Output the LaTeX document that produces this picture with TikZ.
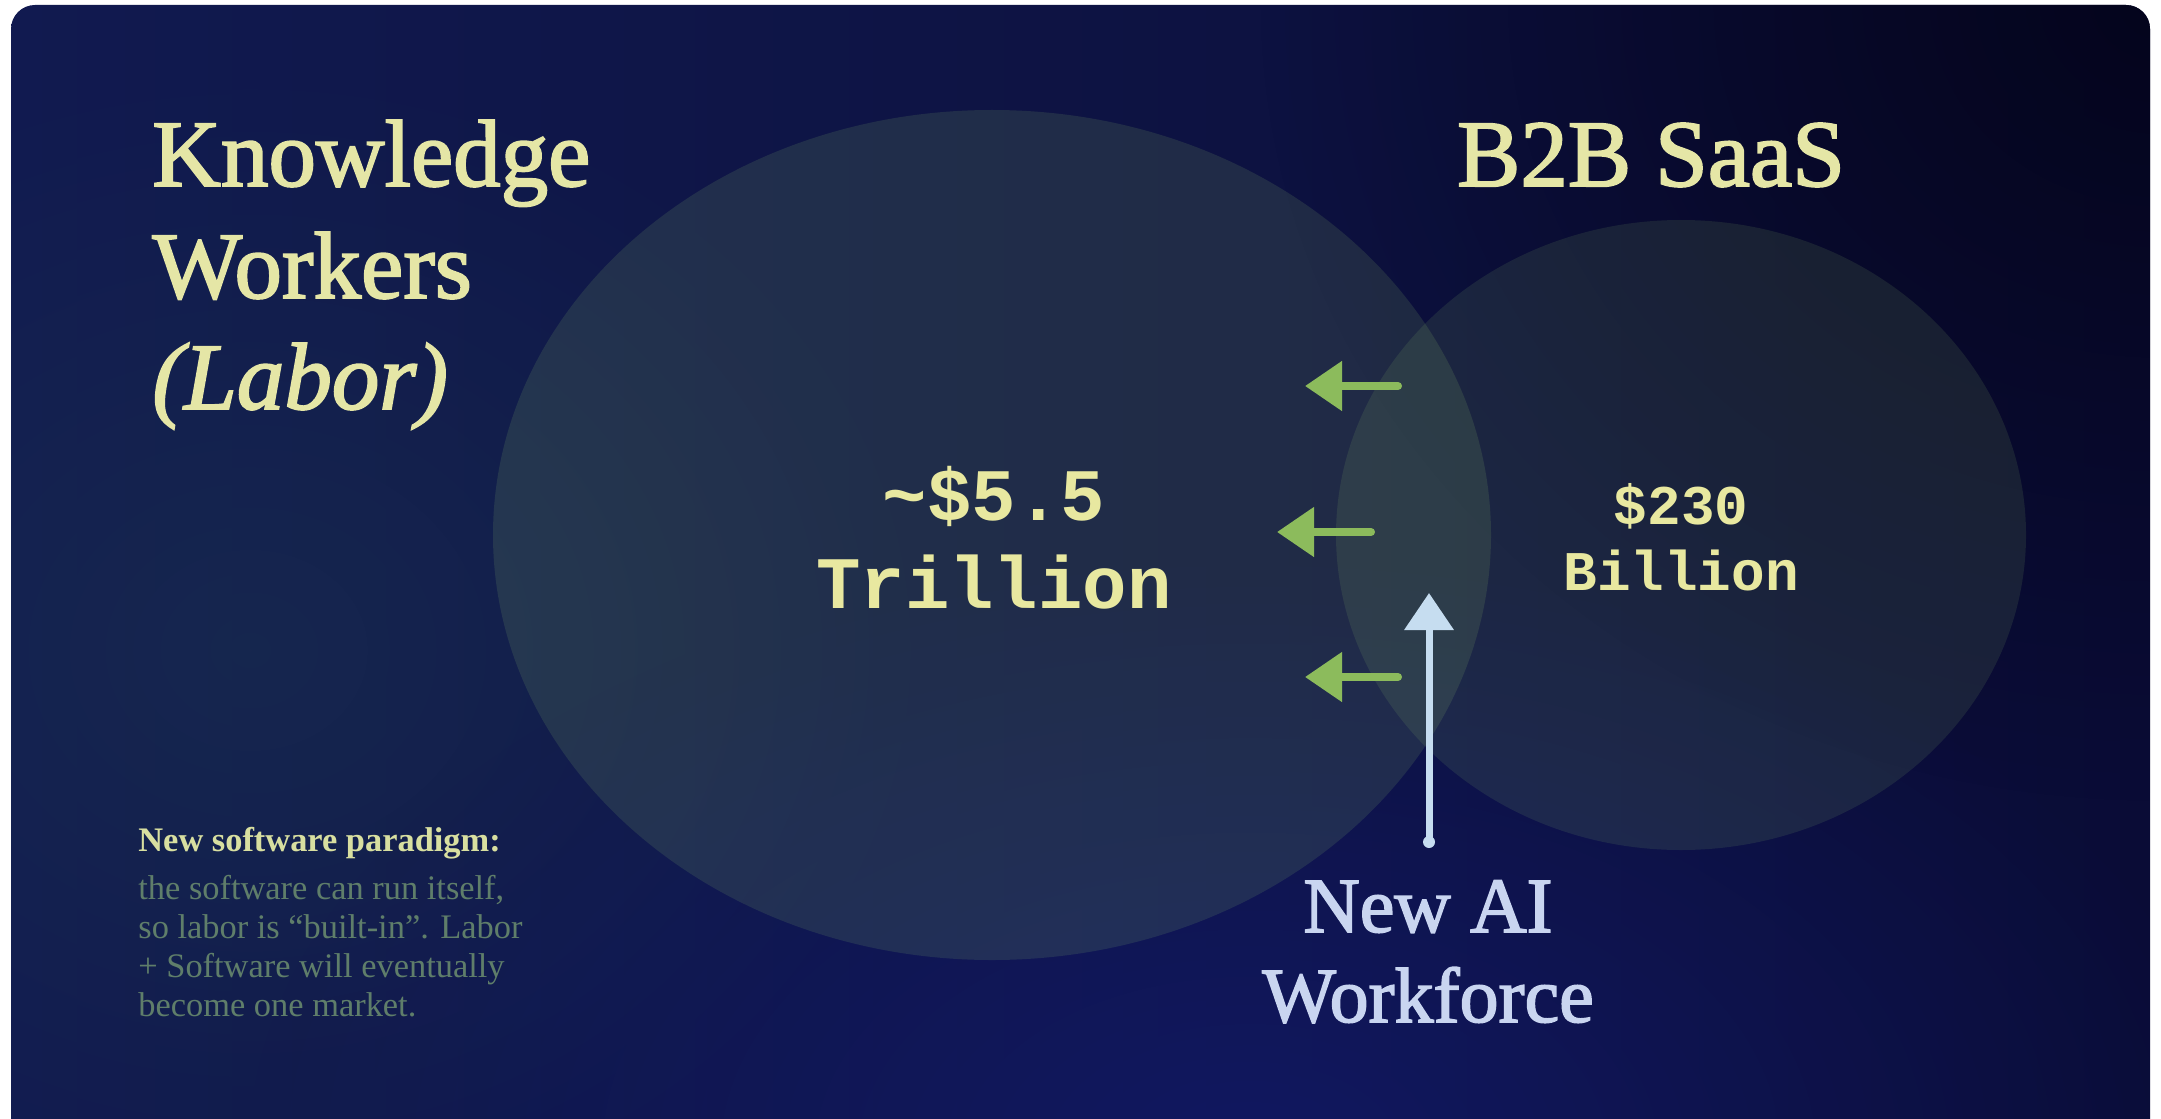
\documentclass[tikz,border=0pt]{standalone}
\usepackage{fontspec}
\setmainfont{Liberation Serif}
\newfontfamily\ttlfont[FakeBold=2]{Liberation Serif}
\newfontfamily\monofont{Liberation Mono}
\usetikzlibrary{arrows.meta,fadings,shapes.geometric}
\definecolor{bgL}{HTML}{111A50}
\definecolor{bgR}{HTML}{0A0C36}
\definecolor{bgD}{HTML}{04041A}
\definecolor{bgP}{HTML}{131B6E}
\definecolor{bgT}{HTML}{1A3050}
\definecolor{ellc}{HTML}{94C86C}
\definecolor{ttl}{HTML}{E5E6A6}
\definecolor{num}{HTML}{E8E8A0}
\definecolor{bluetxt}{HTML}{C9D5F0}
\definecolor{bluearr}{HTML}{C6DDF0}
\definecolor{greenarr}{HTML}{8CBB5C}
\definecolor{notehead}{HTML}{D8DFA0}
\definecolor{notebody}{HTML}{5F7E6A}
\tikzfading[name=myfade, inner color=transparent!0, outer color=transparent!100]
\begin{document}
\begin{tikzpicture}[x=0.5pt,y=-0.5pt,
  venn/.style={ellipse, inner sep=0pt, fill=ellc, fill opacity=0.14, draw=none},
  title/.style={inner sep=0pt, anchor=base west, text=ttl, font=\ttlfont\fontsize{47.5}{56}\selectfont},
  bignum/.style={inner sep=0pt, anchor=base, text=num, font=\monofont\bfseries\fontsize{37}{44}\selectfont},
  smallnum/.style={inner sep=0pt, anchor=base, text=num, font=\monofont\bfseries\fontsize{28}{34}\selectfont},
  aitxt/.style={inner sep=0pt, anchor=base, text=bluetxt, font=\ttlfont\fontsize{39}{45}\selectfont},
  notetxt/.style={inner sep=0pt, anchor=base west, text=notebody, font=\fontsize{17.2}{20}\selectfont},
  greenarrow/.style={draw=greenarr, line width=4pt, line cap=round, -{Triangle[length=18.5pt,width=24pt]}},
  bluearrow/.style={draw=bluearr, line width=3.5pt, -{Triangle[length=18.5pt,width=24pt]}}
]
\useasboundingbox (0,0) rectangle (2161,1118);
\fill[white] (0,0) rectangle (2161,1118);
\begin{scope}
  \clip[rounded corners=12pt] (11,5) rectangle (2150,1180);
  \shade[left color=bgL, right color=bgR] (0,0) rectangle (2161,1118);
  \fill[bgD, path fading=myfade, fill opacity=0.9] (2161,0) ellipse [x radius=900, y radius=800];
  \fill[bgT, path fading=myfade, fill opacity=0.6] (250,650) ellipse [x radius=700, y radius=600];
  \fill[bgP, path fading=myfade, fill opacity=0.7] (1250,1150) ellipse [x radius=1000, y radius=600];
\end{scope}

% Venn ellipses
\node[venn, minimum width=499pt, minimum height=425pt] (labor) at (992,535) {};
\node[venn, fill opacity=0.12, minimum width=345pt, minimum height=315pt] (saas) at (1681,535) {};

% Titles
\node[title] (kw1) at (152,186) {Knowledge};
\node[title] (kw2) at (152,298) {Workers};
\node[title] (kw3) at (152,409) {\itshape (Labor)};
\node[title, anchor=base] (b2b) at (1651,186) {B2B SaaS};

% Numbers
\node[bignum] (n1) at (994,520) {\char`\~\$5.5};
\node[bignum] (n2) at (994,608) {Trillion};
\node[smallnum] (s1) at (1681,524) {\$230};
\node[smallnum] (s2) at (1681,590) {Billion};

% AI workforce
\node[aitxt] (ai1) at (1428,932) {New AI};
\node[aitxt] (ai2) at (1428,1022) {Workforce};

% Note
\node[notetxt, text=notehead, font=\bfseries\fontsize{17.2}{20}\selectfont] (note1) at (138,851) {New software paradigm:};
\node[notetxt] (note2) at (138,899) {the software can run itself,};
\node[notetxt] (note3) at (138,938) {so labor is “built-in”. Labor};
\node[notetxt] (note4) at (138,977) {+ Software will eventually};
\node[notetxt] (note5) at (138,1016) {become one market.};

% Green arrows
\coordinate (g1s) at (1398,386);
\coordinate (g1e) at (1305,386);
\coordinate (g2s) at (1371,532);
\coordinate (g2e) at (1277,532);
\coordinate (g3s) at (1398,677);
\coordinate (g3e) at (1305,677);
\draw[greenarrow] (g1s) -- (g1e);
\draw[greenarrow] (g2s) -- (g2e);
\draw[greenarrow] (g3s) -- (g3e);

% Blue arrow
\coordinate (bs) at (1429,842);
\coordinate (be) at (1429,593);
\draw[bluearrow] (bs) -- (be);
\fill[bluearr] (bs) circle [radius=6];
\end{tikzpicture}
\end{document}
